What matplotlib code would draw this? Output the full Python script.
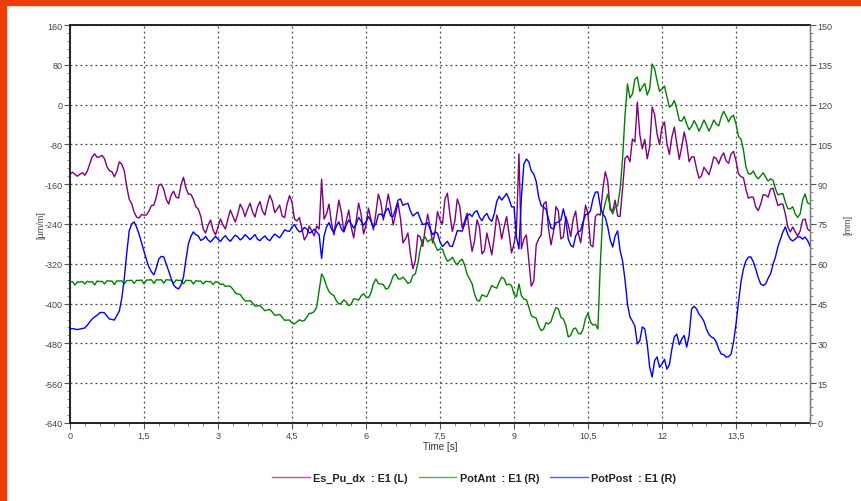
import numpy as np
import matplotlib.pyplot as plt
from matplotlib.patches import Rectangle
from matplotlib.ticker import MultipleLocator, FuncFormatter
from matplotlib.lines import Line2D

plt.rcParams['font.family'] = ['Liberation Sans', 'DejaVu Sans']
plt.rcParams['axes.unicode_minus'] = False

# samples every 0.05 s, 0 .. 15 s: values on the 0.1 s grid plus the in-between ones
time_s = np.round(np.arange(301) * 0.05, 2)

# Es_Pu_dx strain [µm/m], left axis
es_pu_dx = [
    -140, -140, -140, -142, -119, -99, -105, -109, -133, -145,
    -115, -133, -190, -216, -228, -222, -214, -202, -162, -170,
    -200, -174, -188, -146, -180, -190, -210, -250, -242, -252,
    -246, -242, -230, -224, -220, -210, -210, -216, -206, -214,
    -200, -194, -210, -224, -200, -196, -234, -250, -264, -254,
    -244, -150, -220, -238, -226, -216, -234, -246, -234, -220,
    -242, -230, -218, -196, -210, -206, -220, -230, -270, -300,
    -314, -266, -250, -246, -256, -232, -190, -220, -234, -204,
    -234, -260, -274, -246, -294, -280, -266, -238, -246, -260,
    -280, -99, -270, -314, -355, -270, -200, -250, -256, -214,
    -266, -242, -230, -256, -242, -220, -286, -220, -170, -154,
    -214, -224, -170, -103, -69, 5, -89, -109, -5, -59,
    -45, -79, -65, -79, -85, -79, -105, -129, -143, -133,
    -125, -109, -105, -113, -99, -113, -145, -170, -186, -206,
    -200, -182, -170, -186, -200, -220, -256, -256, -254, -230,
    -254,
]
es_pu_dx_mid = [
    -136, -144, -137, -134, -105, -106, -102, -125, -135, -134,
    -120, -165, -199, -226, -221, -222, -203, -186, -160, -190,
    -182, -186, -162, -168, -180, -205, -224, -258, -232, -262,
    -230, -250, -212, -236, -200, -225, -198, -226, -195, -222,
    -182, -217, -202, -227, -183, -230, -227, -272, -244, -264,
    -250, -230, -200, -262, -192, -255, -212, -268, -198, -260,
    -208, -252, -180, -232, -180, -242, -198, -278, -258, -330,
    -262, -285, -220, -278, -215, -240, -178, -255, -190, -248,
    -218, -295, -232, -300, -258, -302, -222, -270, -225, -298,
    -250, -290, -262, -365, -282, -262, -195, -282, -205, -270,
    -225, -265, -214, -278, -202, -282, -225, -222, -135, -212,
    -192, -225, -108, -115, -75, -60, -70, -85, -20, -80,
    -35, -100, -45, -110, -55, -115, -105, -148, -126, -141,
    -105, -119, -97, -118, -94, -139, -147, -188, -186, -213,
    -181, -186, -168, -203, -200, -246, -246, -264, -232, -250,
]

# PotAnt displacement [mm], right axis
pot_ant = [
    53.1, 52.0, 53.1, 52.4, 53.1, 52.0, 53.3, 52.4, 53.5, 52.2,
    53.5, 52.4, 53.7, 52.6, 53.7, 52.4, 53.9, 52.6, 53.9, 52.7,
    53.9, 52.6, 53.7, 52.4, 53.7, 52.4, 53.5, 52.4, 53.3, 52.2,
    53.1, 52.4, 51.6, 50.5, 48.6, 47.1, 46.0, 45.2, 44.1, 43.3,
    42.6, 41.8, 40.7, 39.9, 38.8, 37.7, 38.1, 38.4, 39.9, 41.4,
    43.7, 56.2, 51.6, 48.6, 46.0, 45.2, 45.6, 44.8, 46.7, 47.9,
    47.5, 49.0, 54.3, 52.4, 50.5, 52.7, 56.2, 54.3, 53.9, 53.1,
    56.2, 65.6, 70.1, 69.0, 67.1, 65.6, 62.9, 61.4, 60.7, 61.1,
    59.5, 54.3, 48.6, 46.0, 47.9, 49.7, 51.2, 53.1, 54.3, 52.4,
    48.6, 52.4, 46.7, 43.7, 39.9, 36.6, 35.4, 37.3, 41.1, 43.0,
    39.2, 32.4, 35.4, 33.9, 35.4, 41.5, 36.9, 35.4, 78.8, 86.3,
    78.8, 81.8, 99.5, 127.8, 124.0, 130.4, 126.6, 123.6, 135.3, 128.9,
    125.9, 122.9, 119.8, 118.3, 113.8, 112.7, 111.9, 112.3, 111.9, 112.3,
    111.9, 112.7, 115.3, 115.7, 115.3, 112.7, 107.0, 96.5, 93.8, 93.1,
    93.1, 92.7, 92.0, 88.2, 86.3, 83.3, 80.7, 78.8, 78.8, 86.3,
    82.5,
]
pot_ant_mid = [
    53.3, 53.2, 53.3, 53.4, 53.3, 53.5, 53.4, 53.6, 53.5, 53.6,
    53.6, 53.7, 53.8, 53.8, 53.9, 53.9, 54.0, 54.0, 54.0, 54.0,
    53.9, 53.9, 53.8, 53.8, 53.7, 53.6, 53.5, 53.4, 53.3, 53.2,
    52.2, 51.5, 51.5, 49.0, 48.4, 46.0, 46.1, 44.1, 44.3, 42.3,
    42.8, 40.6, 40.9, 38.7, 38.8, 37.3, 38.9, 38.6, 41.3, 42.0,
    50.0, 54.5, 49.5, 48.0, 44.8, 46.4, 44.2, 46.8, 46.3, 48.7,
    47.2, 52.5, 52.6, 52.2, 50.8, 55.4, 54.3, 55.0, 52.6, 55.6,
    60.0, 69.0, 68.3, 69.3, 65.0, 65.5, 61.0, 62.5, 59.6, 61.7,
    56.0, 52.5, 46.2, 48.3, 47.6, 51.8, 50.8, 55.0, 52.0, 51.8,
    47.5, 48.0, 46.5, 40.5, 39.5, 34.8, 37.8, 38.2, 43.5, 39.8,
    36.8, 33.0, 35.8, 33.5, 39.5, 38.0, 37.2, 60.0, 83.0, 81.5,
    81.5, 88.0, 116.0, 122.5, 129.5, 125.0, 128.0, 126.0, 133.5, 125.0,
    127.0, 119.0, 121.5, 114.0, 115.5, 110.5, 114.0, 110.0, 114.2, 110.0,
    114.2, 112.0, 117.5, 113.5, 116.0, 108.0, 103.0, 94.0, 95.0, 92.0,
    94.3, 91.2, 91.5, 86.0, 86.5, 80.8, 81.5, 77.5, 84.0, 83.0,
]

# PotPost displacement [mm], right axis
pot_post = [
    35.4, 35.4, 35.4, 35.8, 38.1, 40.0, 41.5, 41.5, 39.2, 38.8,
    42.2, 54.3, 72.4, 75.8, 71.2, 64.8, 58.8, 55.8, 61.8, 62.6,
    57.3, 52.0, 50.5, 55.0, 67.5, 72.0, 70.5, 69.3, 68.9, 69.3,
    69.3, 69.7, 69.3, 69.7, 70.1, 69.7, 70.1, 70.1, 69.3, 69.7,
    69.3, 70.1, 70.5, 71.2, 72.4, 73.9, 73.1, 72.4, 73.1, 72.0,
    72.0, 62.0, 73.9, 73.1, 74.2, 73.1, 74.6, 75.0, 75.0, 76.1,
    75.8, 76.1, 75.0, 78.8, 79.9, 78.0, 80.7, 84.4, 82.5, 79.9,
    78.8, 76.9, 75.0, 73.1, 72.0, 68.2, 67.5, 66.7, 69.3, 72.4,
    75.0, 78.8, 79.5, 77.6, 78.0, 76.9, 78.8, 85.5, 85.2, 84.4,
    81.4, 65.6, 97.6, 98.4, 93.8, 85.2, 81.4, 76.9, 73.1, 75.8,
    80.7, 69.3, 66.3, 72.0, 75.8, 78.8, 84.4, 87.1, 78.8, 73.9,
    66.3, 72.4, 61.1, 44.8, 38.4, 29.8, 36.2, 29.8, 17.3, 24.9,
    22.2, 20.3, 27.9, 33.5, 31.6, 28.6, 43.0, 43.0, 39.9, 35.4,
    32.4, 30.5, 26.0, 24.8, 26.0, 37.3, 53.1, 61.1, 62.6, 58.0,
    52.4, 52.4, 56.2, 62.6, 69.3, 73.9, 69.3, 69.3, 70.1, 70.1,
    66.7,
]
pot_post_mid = [
    35.6, 35.2, 35.6, 36.8, 39.2, 40.6, 41.7, 40.3, 39.0, 40.5,
    47.0, 64.0, 75.0, 73.8, 68.0, 61.5, 57.0, 58.5, 62.8, 60.0,
    54.5, 51.0, 52.0, 61.5, 70.3, 71.0, 68.8, 70.3, 68.2, 70.3,
    68.4, 70.6, 68.5, 70.8, 69.0, 71.0, 69.1, 71.0, 68.7, 70.5,
    68.7, 71.2, 69.8, 72.8, 72.2, 74.8, 72.0, 73.7, 71.6, 73.0,
    71.0, 70.5, 75.5, 71.8, 75.8, 72.0, 76.5, 73.5, 77.5, 74.5,
    77.8, 74.0, 78.5, 77.8, 81.0, 77.8, 84.0, 82.0, 82.8, 78.0,
    79.5, 74.8, 75.5, 71.0, 71.5, 66.5, 68.5, 66.5, 72.5, 72.3,
    78.0, 77.8, 80.0, 76.2, 79.0, 76.0, 83.5, 84.0, 86.5, 81.5,
    70.0, 85.0, 99.5, 95.0, 91.0, 82.0, 80.5, 73.5, 75.5, 76.5,
    76.5, 67.0, 70.5, 72.5, 78.5, 80.0, 87.0, 81.5, 77.5, 69.0,
    70.5, 65.0, 54.0, 40.0, 36.5, 31.0, 35.5, 21.0, 23.5, 21.0,
    24.0, 22.0, 32.5, 29.5, 33.0, 33.0, 44.0, 41.0, 38.3, 33.4,
    32.0, 27.8, 25.8, 25.0, 30.5, 45.5, 58.0, 62.5, 60.8, 54.8,
    51.8, 54.5, 59.8, 66.5, 72.0, 71.0, 68.6, 70.2, 69.3, 68.8,
]

series_names = ['Es_Pu_dx  : E1 (L)', 'PotAnt  : E1 (R)', 'PotPost  : E1 (R)']
series_colors = ['#800080', '#008000', '#0000ff']


def interleave(main, mid):
    out = np.empty(len(main) + len(mid))
    out[0::2] = main
    out[1::2] = mid
    return out


fig = plt.figure(figsize=(8.62, 5.02), dpi=100)
fig.patch.set_facecolor('white')

# orange frame strips on top and left edge
fig.patches.append(Rectangle((0, 0.988), 1, 0.012, transform=fig.transFigure,
                             color='#f03c0a', zorder=10))
fig.patches.append(Rectangle((0, 0), 0.0065, 1, transform=fig.transFigure,
                             color='#f03c0a', zorder=10))

ax = fig.add_axes([0.0812, 0.1554, 0.8585, 0.7928])
ax2 = ax.twinx()

ax.plot(time_s, interleave(es_pu_dx, es_pu_dx_mid), color=series_colors[0], lw=1.0)
ax2.plot(time_s, interleave(pot_ant, pot_ant_mid), color=series_colors[1], lw=1.0)
ax2.plot(time_s, interleave(pot_post, pot_post_mid), color=series_colors[2], lw=1.0)

ax.set_xlim(0, 15)
ax.set_ylim(-640, 160)
ax2.set_ylim(0, 150)

ax.set_xticks(np.arange(0, 13.6, 1.5))
ax.xaxis.set_minor_locator(MultipleLocator(0.3))
ax.xaxis.set_major_formatter(FuncFormatter(lambda v, p: f'{v:g}'.replace('.', ',')))
ax.yaxis.set_major_locator(MultipleLocator(80))
ax.yaxis.set_minor_locator(MultipleLocator(16))
ax2.yaxis.set_major_locator(MultipleLocator(15))
ax2.yaxis.set_minor_locator(MultipleLocator(3))

tick_col = '#555555'
for a in (ax, ax2):
    a.tick_params(which='major', length=4, width=0.8, color=tick_col,
                  labelsize=6.5, labelcolor='#444444', pad=1.5)
    a.tick_params(which='minor', length=2, width=0.6, color='#777777')

ax.grid(True, which='major', color='#444444', linestyle=(0, (1.5, 2.5)), lw=0.9)
ax.set_axisbelow(True)

for s in ('left', 'bottom', 'top'):
    ax.spines[s].set_color('#222222')
    ax.spines[s].set_linewidth(1.4)
ax2.spines['right'].set_color('#777777')
ax2.spines['right'].set_linewidth(1.0)
for s in ('left', 'bottom', 'top'):
    ax2.spines[s].set_visible(False)

ax.set_xlabel('Time [s]', fontsize=7, color='#333333', labelpad=1)
ax.set_ylabel('[µm/m]', fontsize=6.5, color='#444444', labelpad=-1)
ax2.set_ylabel('[mm]', fontsize=6.5, color='#444444', labelpad=8)

handles = [Line2D([], [], color=c, lw=1.0, alpha=0.65) for c in series_colors]
fig.legend(handles, series_names, loc='center', bbox_to_anchor=(0.55, 0.046),
           ncol=3, frameon=False, handlelength=3.5, handletextpad=0.3,
           columnspacing=1.0, prop={'size': 7.8, 'weight': 'bold'},
           labelcolor='#222222')

fig.savefig('out.png', dpi=100)
